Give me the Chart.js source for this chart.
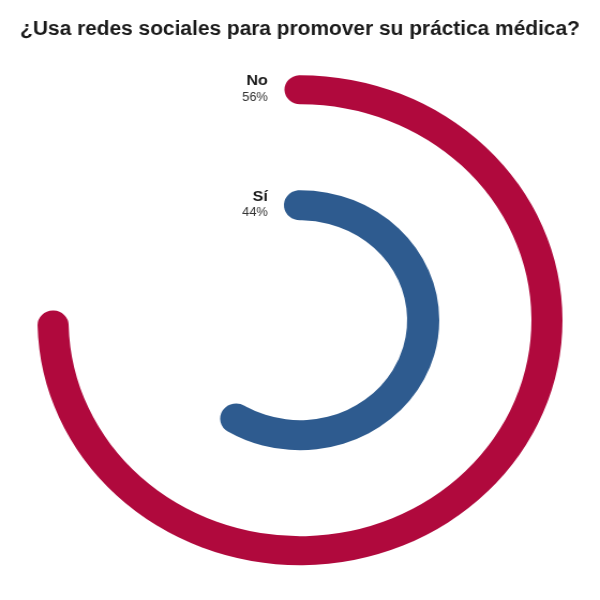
<!DOCTYPE html>
<html>
<head>
<meta charset="utf-8">
<script src="https://cdn.jsdelivr.net/npm/chart.js@4"></script>
<style>
    html, body { margin: 0; padding: 0; background: #fff; }
    #wrap { width: 600px; height: 600px; }
    #chart { width: 600px !important; height: 600px !important; display: block; }
</style>
</head>
<body>
<div id="wrap"><canvas id="chart" width="560" height="600"></canvas></div>
<script>
// Datos de la encuesta
const categories = ['No', 'Sí'];
const values = [56, 44];
const valueLabels = ['56%', '44%'];
const colors = ['#b0093d', '#2e5b8f'];
const maxValue = 75;

const titleText = '¿Usa redes sociales para promover su práctica médica?';
const fontFamily = '"Liberation Sans", Arial, sans-serif';

// Geometría de los anillos (px)
const outerRadius = 245;
const innerHole = 100;
const ringWidth = [29, 30];
const ringMid = [230.5, 115];

function capDeg(i) {
    return ringWidth[i] / 2 / ringMid[i] * 180 / Math.PI;
}

function ringDataset(i) {
    const cap = capDeg(i);
    return {
        label: categories[i],
        data: [values[i], maxValue - values[i]],
        backgroundColor: [colors[i], 'rgba(0,0,0,0)'],
        borderWidth: 0,
        borderRadius: ringWidth[i] / 2,
        weight: ringWidth[i],
        rotation: -cap,
        circumference: 360 + 2 * cap * maxValue / values[i]
    };
}

// Etiquetas al inicio de cada anillo
const ringLabels = {
    id: 'ringLabels',
    afterDatasetsDraw(chart) {
        const ctx = chart.ctx;
        [0, 2].forEach((dsIndex, i) => {
            const arc = chart.getDatasetMeta(dsIndex).data[0];
            const mid = (arc.outerRadius + arc.innerRadius) / 2;
            const x = arc.x - 30;
            const y = arc.y - mid;
            ctx.save();
            ctx.textAlign = 'right';
            ctx.textBaseline = 'middle';
            ctx.fillStyle = '#1a1a1a';
            ctx.font = 'bold 15px ' + fontFamily;
            ctx.fillText(categories[i], x, y - 8.5);
            ctx.fillStyle = '#333';
            ctx.font = '12px ' + fontFamily;
            ctx.fillText(valueLabels[i], x, y + 7.5);
            ctx.restore();
        });
    }
};

const ctx = document.getElementById('chart').getContext('2d');
new Chart(ctx, {
    type: 'doughnut',
    data: {
        labels: ['valor', 'resto'],
        datasets: [
            ringDataset(0),
            { data: [1], backgroundColor: ['rgba(0,0,0,0)'], borderWidth: 0, weight: outerRadius - innerHole - ringWidth[0] - ringWidth[1] },
            ringDataset(1)
        ]
    },
    options: {
        responsive: false,
        animation: false,
        cutout: (innerHole / outerRadius * 100) + '%',
        radius: outerRadius,
        layout: { padding: { top: 0, bottom: 11, left: 0, right: 0 } },
        plugins: {
            legend: { display: false },
            tooltip: { enabled: false },
            title: {
                display: true,
                text: titleText,
                color: '#1a1a1a',
                font: { family: fontFamily, size: 19.5, weight: 'bold' },
                padding: { top: 18, bottom: 10 }
            }
        }
    },
    plugins: [ringLabels]
});
</script>
</body>
</html>
